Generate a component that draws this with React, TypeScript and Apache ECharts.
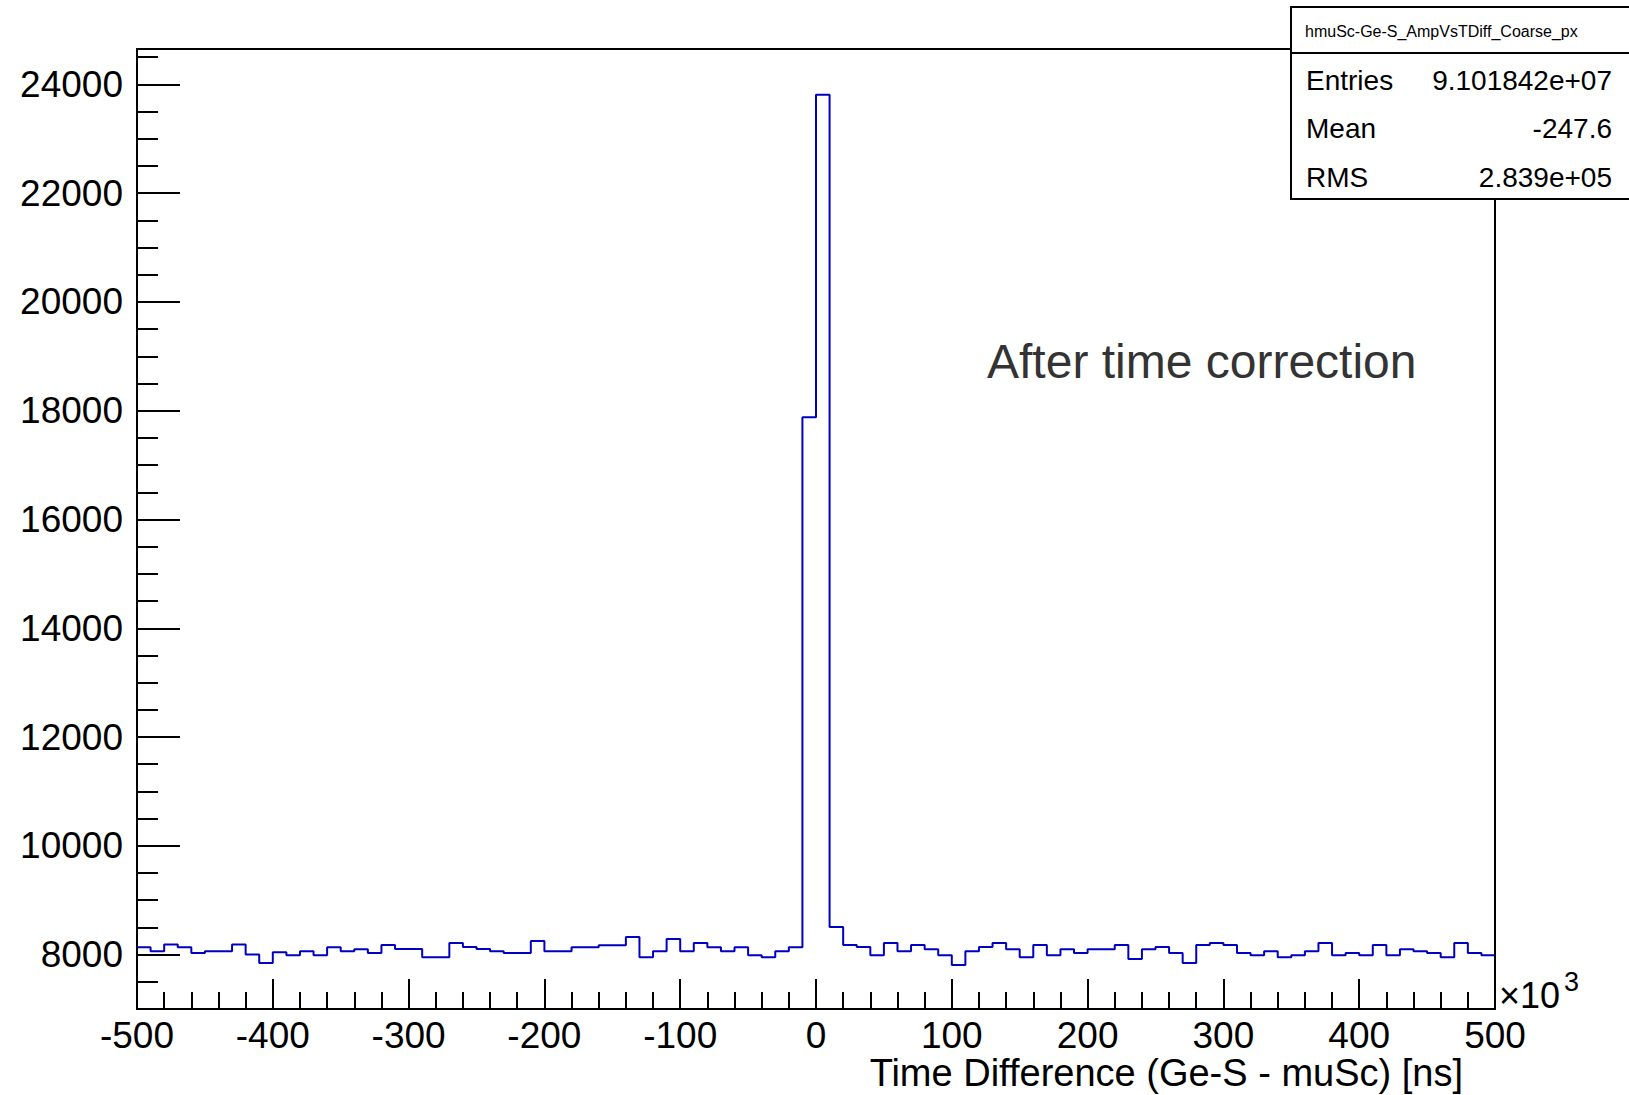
import React, { useEffect, useRef } from "react";
import * as echarts from "echarts";

// Histogram: 100 bins of 10k ns from -500k to +500k ns
const xMin = -500000;
const xMax = 500000;
const binWidth = 10000;
const binCounts = [
  8134, 8061, 8184, 8134, 8031, 8061, 8061, 8184, 8000, 7847,
  8043, 7988, 8061, 7988, 8134, 8061, 8098, 8031, 8178, 8104,
  8104, 7951, 7951, 8214, 8141, 8104, 8061, 8031, 8031, 8251,
  8061, 8061, 8134, 8134, 8171, 8171, 8325, 7951, 8061, 8288,
  8061, 8214, 8134, 8061, 8134, 7988, 7951, 8061, 8134, 17881,
  23809, 8508, 8178, 8141, 7988, 8214, 8061, 8178, 8098, 7988,
  7810, 8061, 8141, 8214, 8098, 7951, 8178, 7988, 8098, 8031,
  8098, 8098, 8178, 7921, 8098, 8141, 8031, 7847, 8178, 8214,
  8178, 8031, 7988, 8061, 7951, 7988, 8061, 8214, 7988, 8031,
  7988, 8178, 7988, 8098, 8061, 8031, 7951, 8214, 8031, 7988,
];
const yMin = 7000;
const yMax = 24650;
const yMajorTicks = [8000, 10000, 12000, 14000, 16000, 18000, 20000, 22000, 24000];
const histName = "hmuSc-Ge-S_AmpVsTDiff_Coarse_px";
const statLabels = ["Entries", "Mean", "RMS"];
const statValues = ["9.101842e+07", "-247.6", "2.839e+05"];
const xTitle = "Time Difference (Ge-S - muSc) [ns]";
const annotation = "After time correction";

const FONT = "Liberation Sans";

export default function App() {
  const ref = useRef<HTMLDivElement>(null);
  useEffect(() => {
    if (!ref.current) return;
    const chart = echarts.init(ref.current, null, { renderer: "svg" });
    const points: number[][] = binCounts.map((v, i) => [xMin + i * binWidth, v]);
    points.push([xMax, binCounts[binCounts.length - 1]]);

    const statRowsY = [80, 128, 177];
    const graphics: any[] = [
      {
        type: "rect",
        shape: { x: 1291, y: 7, width: 345, height: 192 },
        style: { fill: "#fff", stroke: "#000", lineWidth: 2 },
        z: 100,
      },
      {
        type: "line",
        shape: { x1: 1291, y1: 53, x2: 1629, y2: 53 },
        style: { stroke: "#000", lineWidth: 2 },
        z: 101,
      },
      {
        type: "text",
        x: 1305,
        y: 31,
        style: { text: histName, fontSize: 16, fontFamily: FONT, fill: "#000", verticalAlign: "middle", align: "left" },
        z: 101,
      },
      {
        type: "text",
        x: 987,
        y: 361,
        style: { text: annotation, fontSize: 48, fontFamily: FONT, fill: "#333", verticalAlign: "middle", align: "left" },
        z: 101,
      },
      {
        type: "text",
        x: 1463,
        y: 1073,
        style: { text: xTitle, fontSize: 38, fontFamily: FONT, fill: "#000", verticalAlign: "middle", align: "right" },
        z: 101,
      },
      {
        type: "text",
        x: 1499,
        y: 995,
        style: { text: "×10", fontSize: 36, fontFamily: FONT, fill: "#000", verticalAlign: "middle", align: "left" },
        z: 101,
      },
      {
        type: "text",
        x: 1564,
        y: 982,
        style: { text: "3", fontSize: 27, fontFamily: FONT, fill: "#000", verticalAlign: "middle", align: "left" },
        z: 101,
      },
    ];
    statLabels.forEach((lab, i) => {
      graphics.push({
        type: "text",
        x: 1306,
        y: statRowsY[i],
        style: { text: lab, fontSize: 28, fontFamily: FONT, fill: "#000", verticalAlign: "middle", align: "left" },
        z: 101,
      });
      graphics.push({
        type: "text",
        x: 1612,
        y: statRowsY[i],
        style: { text: statValues[i], fontSize: 28, fontFamily: FONT, fill: "#000", verticalAlign: "middle", align: "right" },
        z: 101,
      });
    });

    chart.setOption({
      animation: false,
      backgroundColor: "#fff",
      grid: {
        left: 137,
        right: 134,
        top: 49,
        bottom: 86,
        show: true,
        borderColor: "#000",
        borderWidth: 2,
        backgroundColor: "transparent",
      },
      xAxis: {
        type: "value",
        min: xMin,
        max: xMax,
        interval: 100000,
        axisLine: { show: false, onZero: false },
        axisTick: { show: true, inside: true, length: 30, lineStyle: { color: "#000", width: 2 } },
        minorTick: { show: true, splitNumber: 5, length: 17, lineStyle: { color: "#000", width: 2 } },
        axisLabel: {
          formatter: (v: number) => String(Math.round(v / 1000)),
          fontSize: 37,
          fontFamily: FONT,
          color: "#000",
          margin: 8,
        },
        splitLine: { show: false },
        minorSplitLine: { show: false },
      },
      yAxis: [
        {
          type: "value",
          min: yMin,
          max: yMax,
          interval: 1000,
          position: "left",
          axisLine: { show: false, onZero: false },
          axisTick: {
            show: true,
            inside: true,
            length: 43,
            customValues: yMajorTicks,
            lineStyle: { color: "#000", width: 2 },
          },
          axisLabel: {
            customValues: yMajorTicks,
            formatter: (v: number) => String(v),
            fontSize: 37,
            fontFamily: FONT,
            color: "#000",
            margin: 14,
          },
          splitLine: { show: false },
        },
        {
          type: "value",
          min: yMin,
          max: yMax,
          interval: 500,
          position: "left",
          offset: 0,
          axisLine: { show: false, onZero: false },
          axisTick: { show: true, inside: true, length: 21, lineStyle: { color: "#000", width: 2 } },
          axisLabel: { show: false },
          splitLine: { show: false },
        },
      ],
      series: [
        {
          type: "line",
          data: points,
          step: "end",
          symbol: "none",
          showSymbol: false,
          clip: true,
          lineStyle: { color: "#0000c0", width: 2 },
          z: 5,
        },
      ],
      graphic: graphics,
    });
    return () => chart.dispose();
  }, []);
  return (
    <div
      ref={ref}
      style={{ position: "absolute", left: 0, top: 0, width: 1629, height: 1095 }}
    />
  );
}
